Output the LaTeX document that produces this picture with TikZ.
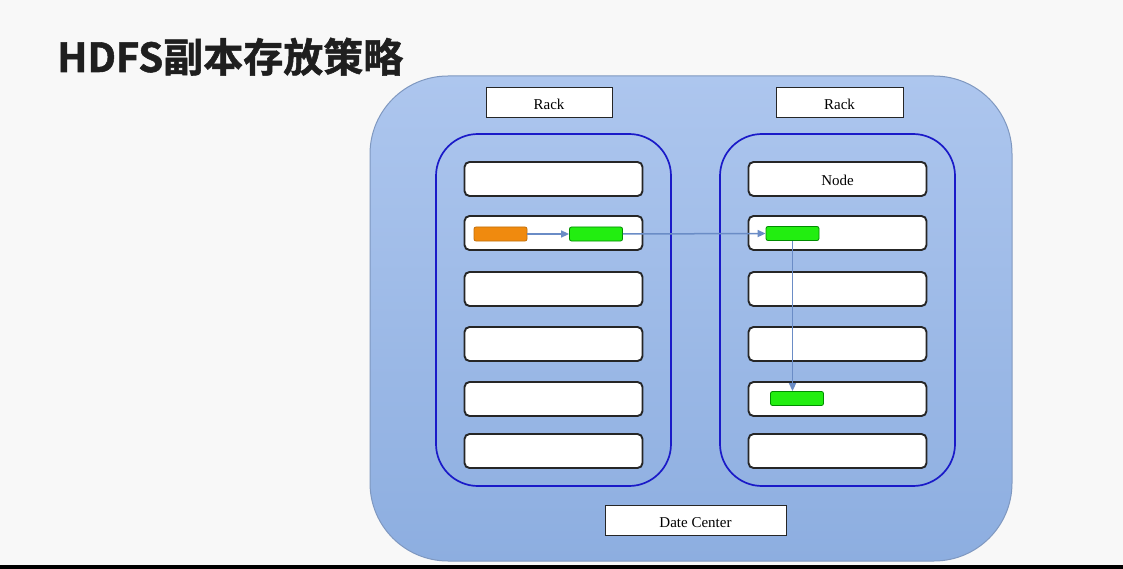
\documentclass[tikz,border=0pt]{standalone}
\usepackage{fontspec}
\setmainfont{Liberation Serif}
\newfontfamily\cjk{Noto Sans CJK SC}[BoldFont={* Bold}, BoldFeatures={FakeBold=1.3}]
\usetikzlibrary{arrows.meta}
\definecolor{bgc}{HTML}{F8F8F8}
\definecolor{dctop}{HTML}{ADC6EE}
\definecolor{dcbot}{HTML}{8DAEE0}
\definecolor{dcline}{HTML}{7F98C0}
\definecolor{rackc}{HTML}{1A1AC8}
\definecolor{arrc}{HTML}{6A8CC6}
\definecolor{orangec}{HTML}{F08A0E}
\definecolor{greenc}{HTML}{22EE10}
\tikzset{
  label box/.style={draw=black!85, line width=1pt, fill=white, minimum width=#1, minimum height=30pt, inner sep=0pt, text height=14pt, text depth=0pt, font=\fontsize{15}{17}\selectfont},
  nodebox/.style={draw=black!85, line width=1.9pt, fill=white, rounded corners=5pt, minimum width=178pt, minimum height=34pt, inner sep=0pt, text height=14pt, text depth=0pt, font=\fontsize{15}{17}\selectfont},
  rackbox/.style={draw=rackc, line width=1.7pt, rounded corners=42pt},
  block/.style={rounded corners=2pt, minimum width=53pt, minimum height=14pt, inner sep=0pt, line width=0.8pt},
  oblock/.style={block, fill=orangec, draw=orangec!80!black},
  gblock/.style={block, fill=greenc, draw=green!55!black},
  flow/.style={draw=arrc, line width=1.5pt, -{Triangle[length=8pt,width=7pt]}}
}
\begin{document}
\begin{tikzpicture}[x=1pt,y=-1pt]
\fill[bgc] (0,0) rectangle (1123,569);
\useasboundingbox (0,0) rectangle (1123,569);
\fill[black] (0,565) rectangle (1123,569);
% title
\node[anchor=base west, inner sep=0pt, font=\cjk\bfseries\fontsize{40}{44}\selectfont, text=black!88] (title) at (57,72) {HDFS副本存放策略};
% data center
\shade[top color=dctop, bottom color=dcbot, rounded corners=78pt] (370,76) rectangle (1012,561);
\draw[dcline, line width=1pt, rounded corners=78pt] (370,76) rectangle (1012,561);
% racks
\draw[rackbox] (436,134) rectangle (671,486);
\draw[rackbox] (720,134) rectangle (955,486);
\node[label box=126pt] (rackL) at (549,103) {Rack};
\node[label box=127pt] (rackR) at (839.5,103) {Rack};
\node[label box=181pt] (dc) at (695.5,520) {Date Center};
% nodes
\foreach \i/\y in {1/179,2/233,3/289,4/344,5/399,6/451}{
  \node[nodebox] (L\i) at (553.5,\y) {};
}
\node[nodebox] (R1) at (837.5,179) {Node};
\foreach \i/\y in {2/233,3/289,4/344,5/399,6/451}{
  \node[nodebox] (R\i) at (837.5,\y) {};
}
% blocks
\node[oblock] (o1) at (500.5,234) {};
\node[gblock] (g1) at (596,234) {};
\node[gblock] (g2) at (792.5,233.5) {};
\node[gblock] (g3) at (797,398.5) {};
\draw[flow] (o1.east) -- (g1.west);
\draw[flow] (g1.east) -- (g2.west);
\draw[flow] (g2.south) -- (g2.south |- g3.north);
\end{tikzpicture}
\end{document}
